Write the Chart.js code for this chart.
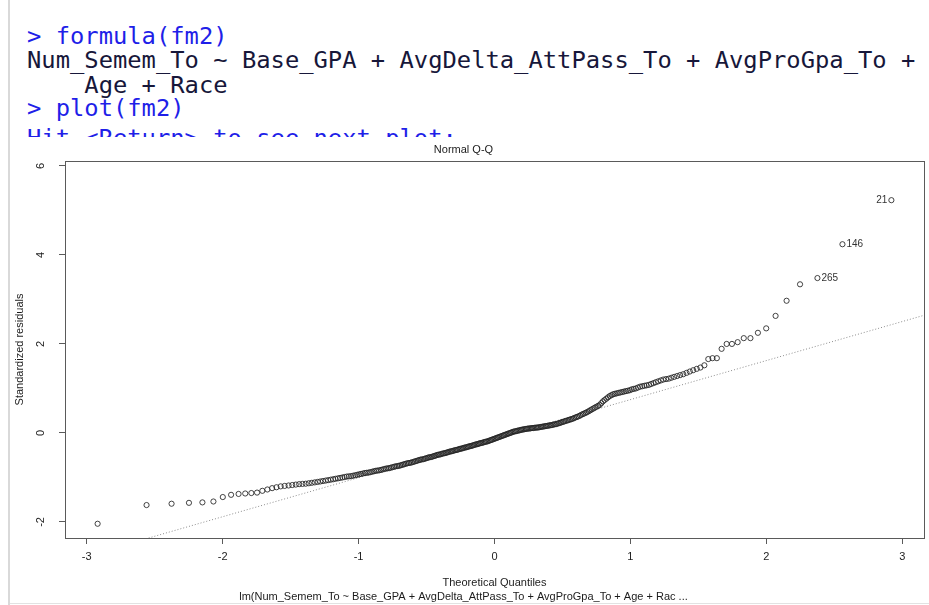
<!DOCTYPE html>
<html>
<head>
<meta charset="utf-8">
<title>Normal Q-Q</title>
<script src="https://cdn.jsdelivr.net/npm/chart.js@4.4.0/dist/chart.umd.min.js"></script>
<style>
  html, body { margin: 0; padding: 0; background: #fff; }
  body { width: 929px; height: 605px; position: relative; overflow: hidden; }
  #gutter { position: absolute; left: 8px; top: 0; width: 2px; height: 605px; background: #d9d9d9; }
  #footer { position: absolute; left: 10px; top: 603px; width: 919px; height: 1px; background: #e2e2e2; }
  #console { position: absolute; left: 0; top: 0; width: 929px; height: 137px; overflow: hidden; }
  #console div {
    position: absolute; left: 27px; white-space: pre;
    font-family: "DejaVu Sans Mono", monospace; font-size: 23.8px; line-height: 24px;
  }
  .cmd { color: #1f1fe8; }
  .out { color: #17173a; }
  #plot { position: absolute; left: 0; top: 137px; }
</style>
</head>
<body>
<div id="gutter"></div>
<div id="footer"></div>
<div id="console">
  <div class="cmd" style="top:24px">&gt; formula(fm2)</div>
  <div class="out" style="top:48px">Num_Semem_To ~ Base_GPA + AvgDelta_AttPass_To + AvgProGpa_To +</div>
  <div class="out" style="top:73px">    Age + Race</div>
  <div class="cmd" style="top:96px">&gt; plot(fm2)</div>
  <div class="cmd" style="top:126px">Hit &lt;Return&gt; to see next plot:</div>
</div>
<canvas id="plot" width="929" height="468"></canvas>
<script>
// theoretical normal quantiles of the 285 observations, ascending
const theoQuantiles = [
  -2.92, -2.56, -2.376, -2.248, -2.149, -2.068, -1.999, -1.938, -1.883, -1.834,
  -1.789, -1.747, -1.708, -1.671, -1.636, -1.604, -1.573, -1.544, -1.515, -1.488,
  -1.462, -1.437, -1.413, -1.389, -1.366, -1.344, -1.322, -1.301, -1.282, -1.262,
  -1.242, -1.224, -1.205, -1.187, -1.170, -1.152, -1.136, -1.119, -1.103, -1.087,
  -1.071, -1.055, -1.040, -1.025, -1.010, -0.996, -0.982, -0.967, -0.953, -0.940,
  -0.926, -0.913, -0.899, -0.886, -0.873, -0.861, -0.848, -0.835, -0.823, -0.810,
  -0.798, -0.786, -0.774, -0.763, -0.751, -0.739, -0.728, -0.716, -0.705, -0.694,
  -0.683, -0.672, -0.662, -0.651, -0.640, -0.629, -0.618, -0.607, -0.597, -0.586,
  -0.576, -0.565, -0.555, -0.545, -0.535, -0.524, -0.514, -0.504, -0.494, -0.485,
  -0.475, -0.465, -0.455, -0.445, -0.436, -0.426, -0.416, -0.407, -0.397, -0.388,
  -0.378, -0.369, -0.359, -0.350, -0.341, -0.331, -0.322, -0.313, -0.304, -0.294,
  -0.285, -0.276, -0.267, -0.258, -0.249, -0.240, -0.231, -0.222, -0.213, -0.204,
  -0.195, -0.186, -0.177, -0.168, -0.159, -0.150, -0.141, -0.132, -0.123, -0.115,
  -0.106, -0.097, -0.088, -0.079, -0.070, -0.062, -0.053, -0.044, -0.035, -0.026,
  -0.018, -0.009,
  0,
  0.009, 0.018, 0.026, 0.035, 0.044, 0.053, 0.062, 0.070, 0.079, 0.088,
  0.097, 0.106, 0.115, 0.123, 0.132, 0.141, 0.150, 0.159, 0.168, 0.177,
  0.186, 0.195, 0.204, 0.213, 0.222, 0.231, 0.240, 0.249, 0.258, 0.267,
  0.276, 0.285, 0.294, 0.304, 0.313, 0.322, 0.331, 0.341, 0.350, 0.359,
  0.369, 0.378, 0.388, 0.397, 0.407, 0.416, 0.426, 0.436, 0.445, 0.455,
  0.465, 0.475, 0.485, 0.494, 0.504, 0.514, 0.524, 0.535, 0.545, 0.555,
  0.565, 0.576, 0.586, 0.597, 0.607, 0.618, 0.629, 0.640, 0.651, 0.662,
  0.672, 0.683, 0.694, 0.705, 0.716, 0.728, 0.739, 0.751, 0.763, 0.774,
  0.786, 0.798, 0.810, 0.823, 0.835, 0.848, 0.861, 0.873, 0.886, 0.899,
  0.913, 0.926, 0.940, 0.953, 0.967, 0.982, 0.996, 1.010, 1.025, 1.040,
  1.055, 1.071, 1.087, 1.103, 1.119, 1.136, 1.152, 1.170, 1.187, 1.205,
  1.224, 1.242, 1.262, 1.282, 1.301, 1.322, 1.344, 1.366, 1.389, 1.413,
  1.437, 1.462, 1.488, 1.515, 1.544, 1.573, 1.604, 1.636, 1.671, 1.708,
  1.747, 1.789, 1.834, 1.883, 1.938, 1.999, 2.068, 2.149, 2.248, 2.376,
  2.56, 2.92
];

// sorted standardized residuals of fm2
const stdResiduals = [
  -2.04, -1.62, -1.59, -1.57, -1.56, -1.54, -1.44, -1.39, -1.37, -1.36,
  -1.35, -1.34, -1.30, -1.27, -1.24, -1.22, -1.20, -1.19, -1.18, -1.17,
  -1.16, -1.15, -1.145, -1.14, -1.13, -1.12, -1.11, -1.10, -1.09, -1.08,
  -1.07, -1.06, -1.05, -1.04, -1.03, -1.02, -1.01, -1.00, -0.99, -0.98,
  -0.975, -0.97, -0.96, -0.95, -0.94, -0.93, -0.92, -0.91, -0.90, -0.895,
  -0.89, -0.88, -0.87, -0.86, -0.85, -0.845, -0.84, -0.83, -0.82, -0.81,
  -0.80, -0.795, -0.79, -0.78, -0.77, -0.76, -0.75, -0.745, -0.74, -0.73,
  -0.72, -0.71, -0.70, -0.69, -0.68, -0.675, -0.67, -0.66, -0.65, -0.64,
  -0.63, -0.62, -0.61, -0.60, -0.595, -0.59, -0.58, -0.57, -0.56, -0.55,
  -0.545, -0.54, -0.53, -0.52, -0.51, -0.50, -0.49, -0.485, -0.48, -0.47,
  -0.46, -0.455, -0.45, -0.44, -0.43, -0.42, -0.415, -0.41, -0.40, -0.39,
  -0.385, -0.38, -0.37, -0.36, -0.355, -0.35, -0.34, -0.33, -0.325, -0.32,
  -0.31, -0.30, -0.295, -0.29, -0.28, -0.27, -0.26, -0.255, -0.25, -0.24,
  -0.23, -0.225, -0.22, -0.21, -0.20, -0.195, -0.19, -0.18, -0.17, -0.16,
  -0.15, -0.14,
  -0.13,
  -0.12, -0.11, -0.10, -0.09, -0.08, -0.07, -0.06, -0.05, -0.04, -0.03,
  -0.02, -0.01, 0.00, 0.01, 0.02, 0.03, 0.035, 0.04, 0.05, 0.055,
  0.06, 0.07, 0.075, 0.08, 0.085, 0.09, 0.095, 0.10, 0.10, 0.105,
  0.11, 0.11, 0.115, 0.12, 0.12, 0.125, 0.13, 0.135, 0.14, 0.145,
  0.15, 0.155, 0.16, 0.165, 0.17, 0.175, 0.18, 0.19, 0.195, 0.20,
  0.21, 0.22, 0.23, 0.24, 0.25, 0.26, 0.27, 0.28, 0.29, 0.30,
  0.31, 0.32, 0.335, 0.35, 0.36, 0.375, 0.39, 0.41, 0.425, 0.44,
  0.455, 0.47, 0.49, 0.51, 0.53, 0.55, 0.57, 0.59, 0.61, 0.63,
  0.67, 0.71, 0.74, 0.77, 0.80, 0.83, 0.85, 0.87, 0.88, 0.89,
  0.90, 0.91, 0.92, 0.93, 0.94, 0.95, 0.96, 0.98, 0.99, 1.00,
  1.02, 1.04, 1.05, 1.06, 1.07, 1.08, 1.10, 1.12, 1.14, 1.16,
  1.18, 1.20, 1.21, 1.22, 1.24, 1.26, 1.28, 1.30, 1.32, 1.35,
  1.38, 1.41, 1.44, 1.47, 1.52, 1.66, 1.68, 1.68, 1.89, 2.00,
  2.00, 2.04, 2.13, 2.13, 2.25, 2.35, 2.63, 2.97, 3.34, 3.48,
  4.24, 5.23
];

// observation numbers of the three largest residuals (last three sorted points)
const idLabels = ['265', '146', '21'];
const idIndex = [282, 283, 284];

const xTicks = [-3, -2, -1, 0, 1, 2, 3];
const yTicks = [-2, 0, 2, 4, 6];
const xLimits = [-3.16, 3.16];
const yLimits = [-2.36, 6.11];

// qqline: intercept and slope through the quartiles
const qqIntercept = -0.128;
const qqSlope = 0.877;

const FONT = '"Liberation Sans", Arial, sans-serif';
const INK = '#1c1c1c';
const AXIS = '#5a5a5a';

if (theoQuantiles.length !== stdResiduals.length) {
  console.warn('quantile/residual length mismatch', theoQuantiles.length, stdResiduals.length);
}

const qqPoints = theoQuantiles.map((q, i) => ({ x: q, y: stdResiduals[i] }));
const qqLinePoints = xLimits.map(q => ({ x: q, y: qqIntercept + qqSlope * q }));

// box around the plotting region, like R's box()
const plotBox = {
  id: 'plotBox',
  afterDraw(chart) {
    const { ctx, chartArea: a } = chart;
    ctx.save();
    ctx.strokeStyle = AXIS;
    ctx.lineWidth = 1;
    ctx.strokeRect(Math.round(a.left) + 0.5, Math.round(a.top) + 0.5,
                   Math.round(a.right - a.left), Math.round(a.bottom - a.top));
    ctx.restore();
  }
};

// y tick labels parallel to the axis (las = 0)
const yTickText = {
  id: 'yTickText',
  afterDraw(chart) {
    const { ctx, chartArea, scales: { y } } = chart;
    ctx.save();
    ctx.font = '11px ' + FONT;
    ctx.fillStyle = INK;
    ctx.textAlign = 'center';
    ctx.textBaseline = 'middle';
    y.ticks.forEach(t => {
      ctx.save();
      ctx.translate(chartArea.left - 24, y.getPixelForValue(t.value));
      ctx.rotate(-Math.PI / 2);
      ctx.fillText(String(t.value), 0, 0);
      ctx.restore();
    });
    ctx.restore();
  }
};

// observation ids next to the most extreme points
const idText = {
  id: 'idText',
  afterDatasetsDraw(chart) {
    const { ctx } = chart;
    const meta = chart.getDatasetMeta(0);
    ctx.save();
    ctx.font = '10px ' + FONT;
    ctx.fillStyle = '#333';
    ctx.textBaseline = 'middle';
    idIndex.forEach((idx, k) => {
      const el = meta.data[idx];
      const leftSide = k === idIndex.length - 1;
      ctx.textAlign = leftSide ? 'right' : 'left';
      ctx.fillText(idLabels[k], el.x + (leftSide ? -4 : 4), el.y);
    });
    ctx.restore();
  }
};

const ctx = document.getElementById('plot').getContext('2d');
new Chart(ctx, {
  type: 'scatter',
  data: {
    datasets: [
      {
        data: qqPoints,
        pointStyle: 'circle',
        pointRadius: 2.6,
        borderWidth: 1,
        borderColor: 'rgba(35,35,35,0.85)',
        backgroundColor: 'rgba(0,0,0,0)'
      },
      {
        type: 'line',
        data: qqLinePoints,
        borderColor: '#8c8c8c',
        borderWidth: 1,
        borderDash: [1, 2],
        pointRadius: 0,
        fill: false
      }
    ]
  },
  options: {
    responsive: false,
    animation: false,
    devicePixelRatio: 1,
    layout: { padding: { left: 0, right: 2, top: 0, bottom: 0 } },
    plugins: {
      legend: { display: false },
      tooltip: { enabled: false },
      title: {
        display: true,
        text: 'Normal Q-Q',
        color: INK,
        font: { family: FONT, size: 11, weight: 'normal' },
        padding: { top: 6.4, bottom: 4.4 }
      },
      subtitle: {
        display: true,
        position: 'bottom',
        text: 'lm(Num_Semem_To ~ Base_GPA + AvgDelta_AttPass_To + AvgProGpa_To + Age + Rac ...',
        color: INK,
        font: { family: FONT, size: 11 },
        padding: { top: 0, bottom: 1.4 }
      }
    },
    scales: {
      x: {
        type: 'linear',
        min: xLimits[0],
        max: xLimits[1],
        afterBuildTicks: s => { s.ticks = xTicks.map(v => ({ value: v })); },
        afterFit: s => { s.height = 52.4; },
        border: { display: false },
        grid: { drawOnChartArea: false, drawTicks: true, tickLength: 6, color: AXIS },
        ticks: {
          padding: 6,
          color: INK,
          font: { family: FONT, size: 11 },
          maxRotation: 0,
          callback: v => String(v)
        },
        title: {
          display: true,
          text: 'Theoretical Quantiles',
          color: INK,
          font: { family: FONT, size: 11 },
          padding: { top: 0, bottom: 0.8 }
        }
      },
      y: {
        type: 'linear',
        min: yLimits[0],
        max: yLimits[1],
        afterBuildTicks: s => { s.ticks = yTicks.map(v => ({ value: v })); },
        afterFit: s => { s.width = 65; },
        border: { display: false },
        grid: { drawOnChartArea: false, drawTicks: true, tickLength: 6, color: AXIS },
        ticks: { display: false },
        title: {
          display: true,
          text: 'Standardized residuals',
          color: INK,
          font: { family: FONT, size: 11 },
          padding: { top: 13.4, bottom: 0 }
        }
      }
    }
  },
  plugins: [plotBox, yTickText, idText]
});
</script>
</body>
</html>
